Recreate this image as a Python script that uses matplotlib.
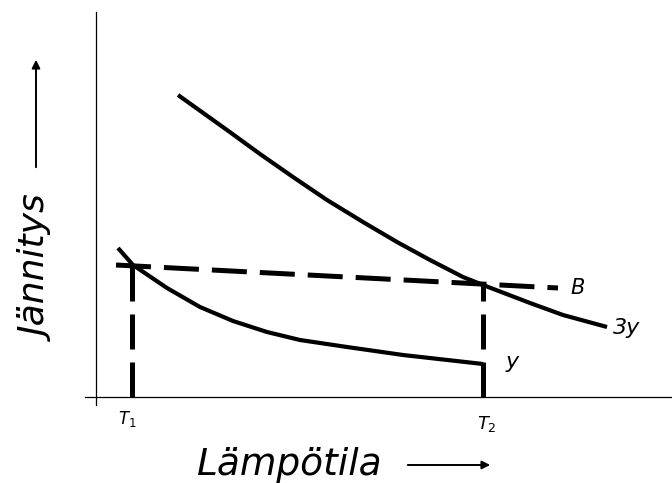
import numpy as np
import matplotlib.pyplot as plt

# curve "3y" (upper solid curve)
x_3y = np.array([82, 131, 164, 197, 231, 267, 301, 334, 367, 387, 434, 467, 511])
v_3y = np.array([302, 267, 243, 220, 197, 175, 155, 137, 120, 112, 94, 82, 70])

# curve "y" (lower solid curve)
x_y = np.array([22, 37, 71, 104, 137, 171, 204, 251, 307, 387])
v_y = np.array([149, 132, 109, 90, 76, 65, 57, 50, 42, 33])

# dashed level B and the two temperatures
b_x = [20, 462]
b_v = [132, 109]
T1 = 36
T2 = 387
T1_top = 132
T2_top = 112

fig = plt.figure(figsize=(6.72, 4.83), dpi=100)
ax = fig.add_axes([0, 0, 1, 1])
ax.set_xlim(-96, 576)
ax.set_ylim(-86, 397)
ax.axis('off')

# axes lines
ax.plot([-11, 576], [0, 0], color='black', lw=0.9)
ax.plot([0, 0], [-8, 385], color='black', lw=0.9)

ax.plot(x_3y, v_3y, color='black', lw=3.0, solid_capstyle='butt')
ax.plot(x_y, v_y, color='black', lw=3.0, solid_capstyle='butt')

dash = (7, 2.6)
ax.plot(b_x, b_v, color='black', lw=3.6, dashes=dash)
ax.plot([T1, T1], [0, T1_top], color='black', lw=3.6, dashes=dash)
ax.plot([T2, T2], [0, T2_top], color='black', lw=3.6, dashes=dash)

hand = dict(family='DejaVu Sans', style='italic', color='black')
ax.text(474, 109, 'B', fontsize=15, va='center', ha='left', **hand)
ax.text(517, 69, '3y', fontsize=16, va='center', ha='left', **hand)
ax.text(410, 35, 'y', fontsize=16, va='center', ha='left', **hand)
ax.text(31, -22, '$T_1$', fontsize=12, va='center', ha='center')
ax.text(391, -27, '$T_2$', fontsize=13, va='center', ha='center')

ax.text(194, -68, 'Lämpötila', fontsize=27, va='center', ha='center', **hand)
ax.annotate('', xy=(397, -68), xytext=(309, -68),
            arrowprops=dict(arrowstyle='-|>', color='black', lw=1.4,
                            mutation_scale=12))
ax.text(-56, 127, 'Jännitys', fontsize=26, va='center', ha='center',
        rotation=90, **hand)
ax.annotate('', xy=(-60, 340), xytext=(-60, 227),
            arrowprops=dict(arrowstyle='-|>', color='black', lw=1.4,
                            mutation_scale=12))

fig.savefig('out.png', dpi=100)
